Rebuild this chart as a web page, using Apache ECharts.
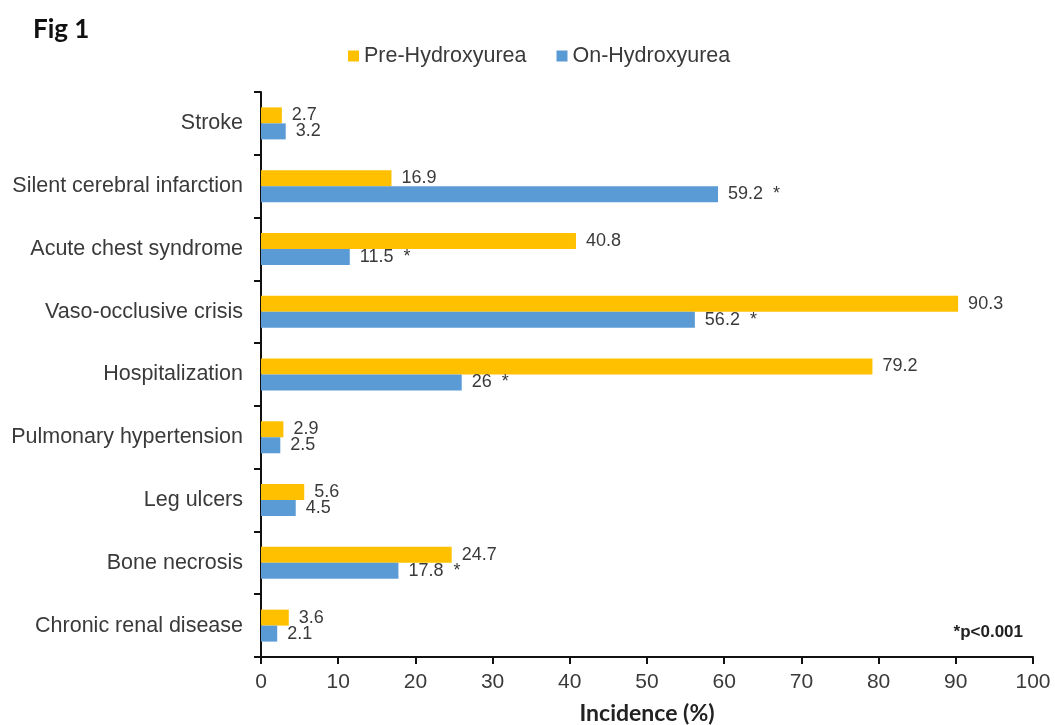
<!DOCTYPE html>
<html>
<head>
<meta charset="utf-8">
<script src="https://cdn.jsdelivr.net/npm/echarts@6/dist/echarts.min.js"></script>
<style>
  html, body { margin: 0; padding: 0; background: #fff; }
  #chart { width: 1055px; height: 725px; }
</style>
</head>
<body>
<div id="chart"></div>
<script>
// Outcomes, listed top to bottom
const categories = [
  'Stroke',
  'Silent cerebral infarction',
  'Acute chest syndrome',
  'Vaso-occlusive crisis',
  'Hospitalization',
  'Pulmonary hypertension',
  'Leg ulcers',
  'Bone necrosis',
  'Chronic renal disease'
];
// Incidence (%) before and during hydroxyurea therapy
const preHydroxyurea = [2.7, 16.9, 40.8, 90.3, 79.2, 2.9, 5.6, 24.7, 3.6];
const onHydroxyurea  = [3.2, 59.2, 11.5, 56.2, 26, 2.5, 4.5, 17.8, 2.1];
// Outcomes where the change reached p<0.001
const significant = [false, true, true, true, true, false, false, true, false];
const xTicks = [0, 10, 20, 30, 40, 50, 60, 70, 80, 90, 100];

const textColor = '#3a3a3a';
const sans = '"Liberation Sans", Arial, sans-serif';
const calibriLike = 'Lato, "Open Sans", sans-serif';

const chart = echarts.init(document.getElementById('chart'), null, { renderer: 'canvas' });

const valueLabel = (flags) => ({
  show: true,
  position: 'right',
  distance: 10,
  color: textColor,
  fontFamily: sans,
  fontSize: 18,
  formatter: (p) => (flags && flags[p.dataIndex]) ? p.value + '  *' : String(p.value)
});

chart.setOption({
  animation: false,
  backgroundColor: '#ffffff',
  title: [
    {
      text: 'Fig 1',
      left: 28, top: 12,
      textStyle: { fontFamily: calibriLike, fontWeight: 'bold', fontSize: 26, color: '#111' }
    },
    {
      text: '*p<0.001',
      right: 27, top: 619,
      textStyle: { fontFamily: sans, fontWeight: 'bold', fontSize: 17, color: '#222' }
    }
  ],
  legend: {
    top: 40,
    left: 343,
    itemWidth: 11,
    itemHeight: 11,
    itemGap: 30,
    icon: 'rect',
    textStyle: { fontFamily: sans, fontSize: 21.5, color: textColor },
    data: ['Pre-Hydroxyurea', 'On-Hydroxyurea']
  },
  grid: { left: 261, right: 22, top: 92, bottom: 68, containLabel: false, outerBoundsMode: 'none' },
  xAxis: {
    type: 'value',
    min: xTicks[0],
    max: xTicks[xTicks.length - 1],
    interval: xTicks[1] - xTicks[0],
    name: 'Incidence (%)',
    nameLocation: 'middle',
    nameGap: 45,
    nameTextStyle: { fontFamily: calibriLike, fontWeight: 'bold', fontSize: 23, color: '#222' },
    axisLine: { show: true, lineStyle: { color: '#111', width: 2 } },
    axisTick: { show: true, length: 7, lineStyle: { color: '#111', width: 2 } },
    axisLabel: { margin: 15, fontFamily: sans, fontSize: 21, color: textColor },
    splitLine: { show: false }
  },
  yAxis: {
    type: 'category',
    inverse: true,
    data: categories,
    axisLine: { show: true, lineStyle: { color: '#111', width: 2 } },
    axisTick: { show: true, length: 7, alignWithLabel: false, lineStyle: { color: '#111', width: 2 } },
    axisLabel: { margin: 18, fontFamily: sans, fontSize: 21.5, color: textColor }
  },
  series: [
    {
      name: 'Pre-Hydroxyurea',
      type: 'bar',
      data: preHydroxyurea,
      barWidth: 16,
      barGap: '0%',
      itemStyle: { color: '#FFC000' },
      label: valueLabel(null)
    },
    {
      name: 'On-Hydroxyurea',
      type: 'bar',
      data: onHydroxyurea,
      barWidth: 16,
      barGap: '0%',
      itemStyle: { color: '#5B9BD5' },
      label: valueLabel(significant)
    }
  ]
});
</script>
</body>
</html>
